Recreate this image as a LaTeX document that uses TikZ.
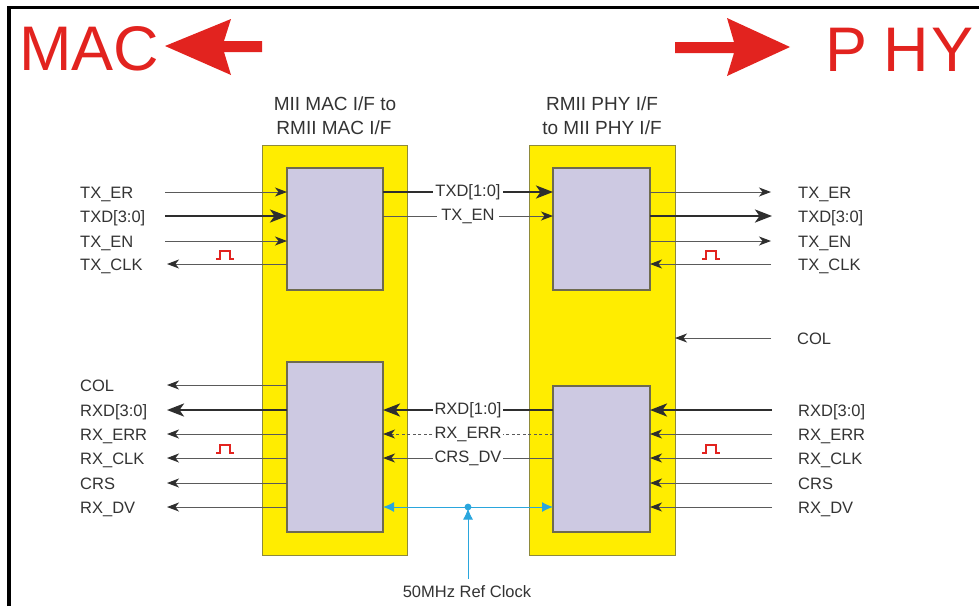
\documentclass[tikz,border=0pt]{standalone}
\usepackage{fontspec}
\setmainfont{Liberation Sans}
\usetikzlibrary{arrows.meta,calc}
\definecolor{ylw}{HTML}{FFED00}
\definecolor{ylwline}{HTML}{8E8A3C}
\definecolor{lav}{HTML}{CDC9E2}
\definecolor{lavline}{HTML}{6E6A50}
\definecolor{sigcol}{HTML}{5A5A5A}
\definecolor{tipcol}{HTML}{2E2E2E}
\definecolor{txtcol}{HTML}{333333}
\definecolor{redc}{HTML}{E2231F}
\definecolor{bluec}{HTML}{2AA6DD}
\tikzset{
  yblock/.style={draw=ylwline,line width=1pt,fill=ylw,inner sep=0pt,outer sep=0pt},
  iblock/.style={draw=lavline,line width=1.2pt,fill=lav,inner sep=0pt,outer sep=0pt},
  lbl/.style={font=\fontsize{16.5}{18}\selectfont,text=txtcol,inner sep=0pt,anchor=base west},
  ttl/.style={font=\fontsize{19}{22}\selectfont,text=txtcol,inner sep=0pt,anchor=base},
  midlbl/.style={font=\fontsize{16.5}{18}\selectfont,text=txtcol,fill=white,inner sep=2pt,anchor=center},
  sig/.style={draw=sigcol,line width=1pt,-{Stealth[length=12pt,width=9pt,inset=3.5pt,color=tipcol]}},
  tsig/.style={draw=black!82,line width=2.6pt,-{Stealth[length=17pt,width=13pt,inset=4.5pt]}},
  dsig/.style={sig,dash pattern=on 3pt off 2.5pt},
  clkline/.style={draw=bluec,line width=1pt},
  clkpulse/.pic={\draw[redc,line width=1.6pt] (-9,0) -- (-5,0) -- (-5,-8) -- (5,-8) -- (5,0) -- (9,0);},
  bigtxt/.style={font=\fontsize{63}{70}\selectfont,text=redc,inner sep=0pt,anchor=base west}
}
\begin{document}
\begin{tikzpicture}[x=1pt,y=-1pt]
\useasboundingbox (0,0) rectangle (979,606);
% frame
\draw[line width=3.7pt] (9,606) -- (9,7.5) -- (979,7.5);
% MAC / PHY
\node[bigtxt] (mac) at (19,70) {MAC};
\node[bigtxt] (phy) at (825,71) {P\kern16pt H\kern3pt Y};
\fill[redc] (165,46) -- (231,19) -- (224,41) -- (262,41) -- (262,52) -- (224,52) -- (231,75) -- cycle;
\fill[redc] (790,47) -- (727,18) -- (734,42) -- (675,42) -- (675,53) -- (734,53) -- (727,76) -- cycle;
% titles
\node[ttl] (t1a) at (335,110) {MII MAC I/F to};
\node[ttl] (t1b) at (334,134) {RMII MAC I/F};
\node[ttl] (t2a) at (602,110) {RMII PHY I/F};
\node[ttl] (t2b) at (602,134) {to MII PHY I/F};
% blocks
\node[yblock,minimum width=145pt,minimum height=410pt] (yL) at (334.5,350) {};
\node[yblock,minimum width=146pt,minimum height=410pt] (yR) at (602,350) {};
\node[iblock,minimum width=96pt,minimum height=122pt] (iLT) at (335,229) {};
\node[iblock,minimum width=96pt,minimum height=170pt] (iLB) at (335,447) {};
\node[iblock,minimum width=97pt,minimum height=122pt] (iRT) at (601.5,229) {};
\node[iblock,minimum width=97pt,minimum height=146pt] (iRB) at (601.5,459) {};
% ---------- left TX
\node[lbl] (lTXER) at (80,198) {TX\_ER};
\node[lbl] (lTXD) at (80,222) {TXD[3:0]};
\node[lbl] (lTXEN) at (80,247) {TX\_EN};
\node[lbl] (lTXCLK) at (80,270) {TX\_CLK};
\coordinate (aTXER) at (165,192);
\coordinate (aTXD) at (165,216);
\coordinate (aTXEN) at (165,241);
\coordinate (aTXCLK) at (167,264);
\draw[sig] (aTXER) -- (aTXER -| iLT.west);
\draw[tsig] (aTXD) -- (aTXD -| iLT.west);
\draw[sig] (aTXEN) -- (aTXEN -| iLT.west);
\draw[sig] (aTXCLK -| iLT.west) -- (aTXCLK);
\pic at (225,259) {clkpulse};
% ---------- left RX
\node[lbl] (lCOL) at (80,391) {COL};
\node[lbl] (lRXD) at (80,416) {RXD[3:0]};
\node[lbl] (lRXERR) at (80,440) {RX\_ERR};
\node[lbl] (lRXCLK) at (80,464) {RX\_CLK};
\node[lbl] (lCRS) at (80,489) {CRS};
\node[lbl] (lRXDV) at (80,513) {RX\_DV};
\coordinate (aCOL) at (167,385);
\coordinate (aRXD) at (167,410);
\coordinate (aRXERR) at (167,434);
\coordinate (aRXCLK) at (167,458);
\coordinate (aCRS) at (167,483);
\coordinate (aRXDV) at (167,507);
\draw[sig] (aCOL -| iLB.west) -- (aCOL);
\draw[tsig] (aRXD -| iLB.west) -- (aRXD);
\draw[sig] (aRXERR -| iLB.west) -- (aRXERR);
\draw[sig] (aRXCLK -| iLB.west) -- (aRXCLK);
\draw[sig] (aCRS -| iLB.west) -- (aCRS);
\draw[sig] (aRXDV -| iLB.west) -- (aRXDV);
\pic at (225,453) {clkpulse};
% ---------- middle
\coordinate (mTX1) at (468,192);
\coordinate (mTX2) at (468,216);
\coordinate (mRX1) at (468,410);
\coordinate (mRX2) at (468,434);
\coordinate (mRX3) at (468,458);
\draw[tsig] (mTX1 -| iLT.east) -- (mTX1 -| iRT.west) node[midlbl,pos=0.5] (nTXD10) {TXD[1:0]};
\draw[sig] (mTX2 -| iLT.east) -- (mTX2 -| iRT.west) node[midlbl,pos=0.5,inner sep=4pt] (nTXEN) {TX\_EN};
\draw[tsig] (mRX1 -| iRB.west) -- (mRX1 -| iLB.east) node[midlbl,pos=0.5] (nRXD10) {RXD[1:0]};
\draw[dsig] (mRX2 -| iRB.west) -- (mRX2 -| iLB.east) node[midlbl,pos=0.5] (nRXERR) {RX\_ERR};
\draw[sig] (mRX3 -| iRB.west) -- (mRX3 -| iLB.east) node[midlbl,pos=0.5] (nCRSDV) {CRS\_DV};
% ref clock
\coordinate (dot) at (468,507);
\node[font=\fontsize{16.5}{18}\selectfont,text=txtcol,inner sep=0pt,anchor=base] (refclk) at (467,597) {50MHz Ref Clock};
\draw[clkline,{Latex[length=11pt,width=10pt]}-{Latex[length=11pt,width=10pt]}] (dot -| iLB.east) -- (dot -| iRB.west);
\draw[clkline,-{Latex[length=11pt,width=10pt]}] (468,579) -- ($(dot)+(0,1.5)$);
\fill[bluec] (dot) circle (3.4pt);
% ---------- right TX
\node[lbl] (rTXERl) at (798,198) {TX\_ER};
\node[lbl] (rTXDl) at (798,222) {TXD[3:0]};
\node[lbl] (rTXENl) at (798,247) {TX\_EN};
\node[lbl] (rTXCLKl) at (798,270) {TX\_CLK};
\coordinate (bTXER) at (771,192);
\coordinate (bTXD) at (772,216);
\coordinate (bTXEN) at (771,241);
\coordinate (bTXCLK) at (771,264);
\draw[sig] (bTXER -| iRT.east) -- (bTXER);
\draw[tsig] (bTXD -| iRT.east) -- (bTXD);
\draw[sig] (bTXEN -| iRT.east) -- (bTXEN);
\draw[sig] (bTXCLK) -- (bTXCLK -| iRT.east);
\pic at (711,259) {clkpulse};
% COL right
\node[lbl] (rCOLl) at (797,344) {COL};
\coordinate (bCOL) at (771,338);
\draw[sig] (bCOL) -- (bCOL -| yR.east);
% ---------- right RX
\node[lbl] (rRXDl) at (798,416) {RXD[3:0]};
\node[lbl] (rRXERRl) at (798,440) {RX\_ERR};
\node[lbl] (rRXCLKl) at (798,464) {RX\_CLK};
\node[lbl] (rCRSl) at (798,489) {CRS};
\node[lbl] (rRXDVl) at (798,513) {RX\_DV};
\coordinate (bRXD) at (772,410);
\coordinate (bRXERR) at (772,434);
\coordinate (bRXCLK) at (772,458);
\coordinate (bCRS) at (772,483);
\coordinate (bRXDV) at (772,507);
\draw[tsig] (bRXD) -- (bRXD -| iRB.east);
\draw[sig] (bRXERR) -- (bRXERR -| iRB.east);
\draw[sig] (bRXCLK) -- (bRXCLK -| iRB.east);
\draw[sig] (bCRS) -- (bCRS -| iRB.east);
\draw[sig] (bRXDV) -- (bRXDV -| iRB.east);
\pic at (711,453) {clkpulse};
\end{tikzpicture}
\end{document}
